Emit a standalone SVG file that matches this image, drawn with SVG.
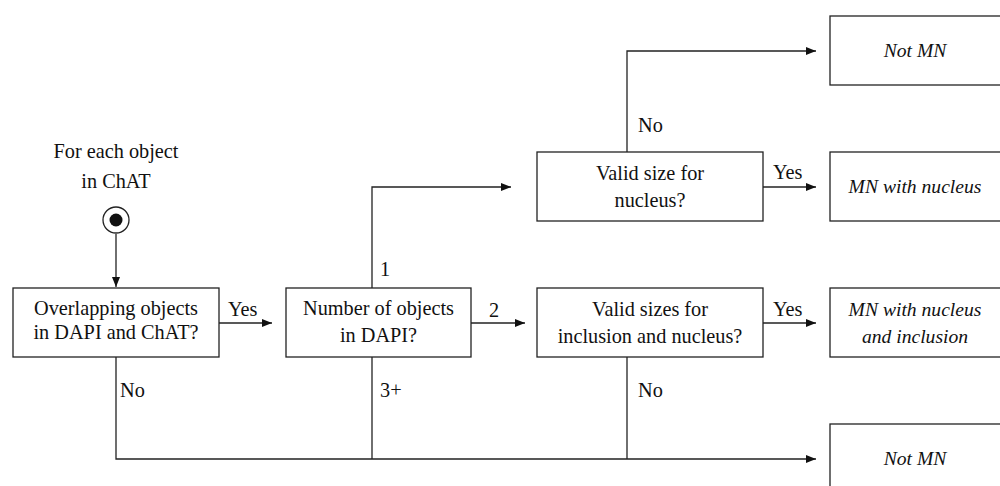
<svg xmlns="http://www.w3.org/2000/svg" width="1000" height="486" viewBox="0 0 1000 486">
  <style>
    .box { fill: #ffffff; stroke: #222222; stroke-width: 1.3; }
    .edge { fill: none; stroke: #222222; stroke-width: 1.3; }
    text { font-family: "Liberation Serif", "DejaVu Serif", serif; font-size: 20.3px; fill: #111111; }
    .c { text-anchor: middle; }
    .it { font-style: italic; font-size: 19.6px; }
  </style>
  <defs>
    <marker id="arrow" viewBox="0 0 10 8" refX="10" refY="4" markerWidth="10" markerHeight="8" markerUnits="userSpaceOnUse" orient="auto">
      <path d="M0,0 L10,4 L0,8 Z" fill="#111111"/>
    </marker>
  </defs>

  <rect width="1000" height="486" fill="#ffffff"/>

  <!-- connectors -->
  <g id="connectors">
    <line class="edge" x1="116" y1="234" x2="116" y2="287" marker-end="url(#arrow)"/>
    <line class="edge" x1="219" y1="323" x2="272" y2="323" marker-end="url(#arrow)"/>
    <line class="edge" x1="471" y1="323" x2="525" y2="323" marker-end="url(#arrow)"/>
    <polyline class="edge" points="372,288 372,187 511,187" marker-end="url(#arrow)"/>
    <polyline class="edge" points="627,152 627,51 816,51" marker-end="url(#arrow)"/>
    <line class="edge" x1="763" y1="187" x2="816" y2="187" marker-end="url(#arrow)"/>
    <line class="edge" x1="763" y1="323" x2="816" y2="323" marker-end="url(#arrow)"/>
    <polyline class="edge" points="116,357 116,459 816,459" marker-end="url(#arrow)"/>
    <line class="edge" x1="372" y1="357" x2="372" y2="459"/>
    <line class="edge" x1="627" y1="357" x2="627" y2="459"/>
    <text x="228" y="316">Yes</text>
    <text x="120" y="397">No</text>
    <text x="380" y="276">1</text>
    <text x="489" y="317">2</text>
    <text x="380" y="397">3+</text>
    <text x="638" y="132">No</text>
    <text x="773" y="179">Yes</text>
    <text x="773" y="316">Yes</text>
    <text x="638" y="397">No</text>
  </g>

  <!-- start -->
  <g id="start">
    <text class="c" x="116" y="158">For each object</text>
    <text class="c" x="116" y="188">in ChAT</text>
    <circle cx="116" cy="220" r="13" fill="#ffffff" stroke="#222222" stroke-width="1.3"/>
    <circle cx="116" cy="220" r="6.5" fill="#111111"/>
  </g>

  <g id="overlap">
    <rect class="box" x="13" y="288" width="206" height="69"/>
    <text class="c" x="116" y="315">Overlapping objects</text>
    <text class="c" x="116" y="339">in DAPI and ChAT?</text>
  </g>

  <g id="count">
    <rect class="box" x="286" y="288" width="185" height="69"/>
    <text class="c" x="378.5" y="315">Number of objects</text>
    <text class="c" x="378.5" y="342">in DAPI?</text>
  </g>

  <g id="size-nucleus">
    <rect class="box" x="537" y="152" width="226" height="69"/>
    <text class="c" x="650" y="180">Valid size for</text>
    <text class="c" x="650" y="207">nucleus?</text>
  </g>

  <g id="size-both">
    <rect class="box" x="537" y="288" width="226" height="69"/>
    <text class="c" x="650" y="316">Valid sizes for</text>
    <text class="c" x="650" y="343">inclusion and nucleus?</text>
  </g>

  <g id="not-mn-top">
    <rect class="box" x="830" y="16" width="172" height="69"/>
    <text class="c it" x="915" y="57">Not MN</text>
  </g>

  <g id="mn-nucleus">
    <rect class="box" x="830" y="152" width="172" height="69"/>
    <text class="c it" x="915" y="193">MN with nucleus</text>
  </g>

  <g id="mn-nucleus-inclusion">
    <rect class="box" x="830" y="288" width="172" height="69"/>
    <text class="c it" x="915" y="316">MN with nucleus</text>
    <text class="c it" x="915" y="343">and inclusion</text>
  </g>

  <g id="not-mn-bottom">
    <rect class="box" x="830" y="424" width="172" height="69"/>
    <text class="c it" x="915" y="465">Not MN</text>
  </g>
</svg>
